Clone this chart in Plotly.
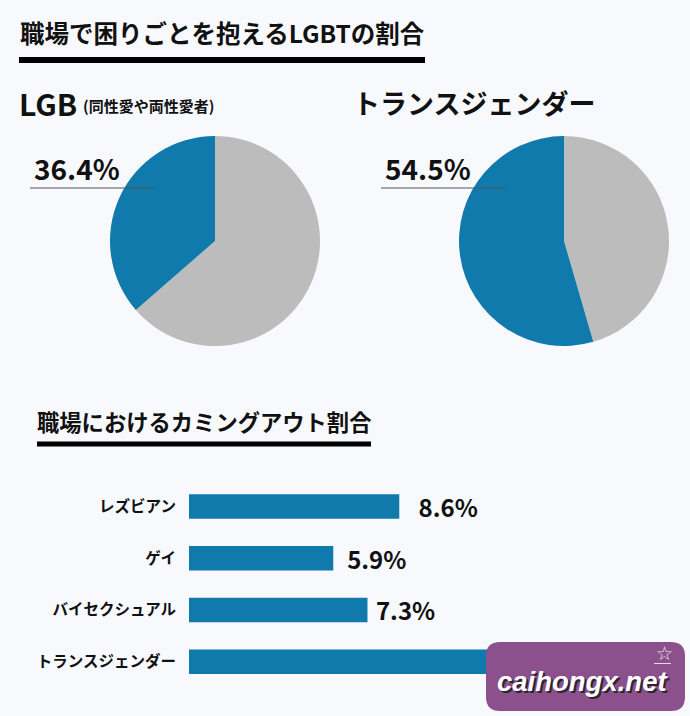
import plotly.graph_objects as go

W = 690
H = 716
JP = "Noto Sans CJK JP"

pie_labels = ['該当', 'その他']
lgb_values = [36.4, 63.6]
trans_values = [54.5, 45.5]

bar_names = ['レズビアン', 'ゲイ', 'バイセクシュアル', 'トランスジェンダー']
bar_values = [8.6, 5.9, 7.3, 15.8]
# the last label is hidden behind the watermark in the original
bar_text = ['\u00a0\u00a0\u00a08.6%', '\u00a0\u00a05.9%', '\u00a07.3%', '']

BLUE = '#0f7aab'
GREY = '#bcbcbc'
BG = '#f8f9fd'


def px(x):
    return x / W


def py(y):
    return 1 - y / H


def add_label(fig, x, y, text, size, anchor='left', color='#111111', font=JP, **kw):
    fig.add_annotation(x=px(x), y=py(y), xref='paper', yref='paper', text=text,
                       showarrow=False, xanchor=anchor, yanchor='middle',
                       font=dict(family=font, size=size, color=color), **kw)


def add_box(fig, x0, y0, x1, y1, color):
    fig.add_shape(type='rect', xref='paper', yref='paper', x0=px(x0), x1=px(x1),
                  y0=py(y0), y1=py(y1), fillcolor=color, line_width=0, layer='above')


fig = go.Figure()

for values, x0, x1 in [(lgb_values, 110, 320), (trans_values, 459, 669)]:
    # blue slice is drawn last going clockwise, so it ends at 12 o'clock
    fig.add_trace(go.Pie(labels=pie_labels, values=values[::-1], sort=False,
                         direction='clockwise', rotation=0, textinfo='none',
                         marker=dict(colors=[GREY, BLUE], line=dict(width=0)),
                         domain=dict(x=[px(x0), px(x1)], y=[py(346), py(136)]),
                         showlegend=False, hoverinfo='skip'))

fig.add_trace(go.Bar(x=bar_values, y=bar_names, orientation='h', marker_color=BLUE,
                     marker_line_width=0, text=bar_text, textposition='outside',
                     cliponaxis=False, constraintext='none',
                     textfont=dict(family=JP, size=24, color='#111111', weight='bold'),
                     showlegend=False, hoverinfo='skip'))

fig.update_layout(
    width=W, height=H, margin=dict(l=0, r=0, t=0, b=0), autosize=False,
    paper_bgcolor=BG, plot_bgcolor=BG, bargap=0.526,
    xaxis=dict(domain=[px(189), 1], range=[0, (W - 189) / 24.45], visible=False),
    yaxis=dict(domain=[py(687.5), py(480.7)], autorange='reversed', showgrid=False,
               showline=False, zeroline=False, ticks='', ticklabelstandoff=12,
               tickfont=dict(family=JP, size=15.5, color='#111111', weight='bold')),
)

add_label(fig, 18, 33, '<b>職場で困りごとを抱えるLGBTの割合</b>', 24.5)
add_box(fig, 19, 57, 425, 63, '#000000')
add_label(fig, 17, 103, '<b>LGB</b>', 30)
add_label(fig, 81, 106, '<b>(同性愛や両性愛者)</b>', 15)
add_label(fig, 351, 103, '<b>トランスジェンダー</b>', 27)

add_label(fig, 32, 168, '<b>36.4%</b>', 28)
add_box(fig, 30, 187.6, 155, 188.6, '#555555')
add_label(fig, 383, 168, '<b>54.5%</b>', 28)
add_box(fig, 381, 187.6, 506, 188.6, '#555555')

add_label(fig, 35, 421, '<b>職場におけるカミングアウト割合</b>', 22.3)
add_box(fig, 37, 441.5, 371, 446.5, '#000000')

# watermark
fig.add_shape(type='path', xref='paper', yref='paper', layer='above', line_width=0,
              fillcolor='#8c518c',
              path=(f'M {px(500)} {py(642)} L {px(671)} {py(642)} '
                    f'Q {px(685)} {py(642)} {px(685)} {py(656)} '
                    f'L {px(685)} {py(697)} Q {px(685)} {py(711)} {px(671)} {py(711)} '
                    f'L {px(500)} {py(711)} Q {px(486)} {py(711)} {px(486)} {py(697)} '
                    f'L {px(486)} {py(656)} Q {px(486)} {py(642)} {px(500)} {py(642)} Z'))
add_box(fig, 654, 663, 671, 664, '#e8d8e8')
add_label(fig, 664, 653, '☆', 19, anchor='center', color='#f0e4f0', font='DejaVu Sans')
fig.add_annotation(x=px(582), y=py(681), xref='paper', yref='paper', showarrow=False,
                   text='<b><i>caihongx.net</i></b>', xanchor='center', yanchor='middle',
                   font=dict(family='Liberation Sans', size=27.5, color='#ffffff',
                             shadow='2px 2px 0 #2e2430'))

# drop the page's default 8px margin so the figure fills the window
fig.write_html("out.html", config=dict(displayModeBar=False),
               post_script="document.body.style.margin='0';")
